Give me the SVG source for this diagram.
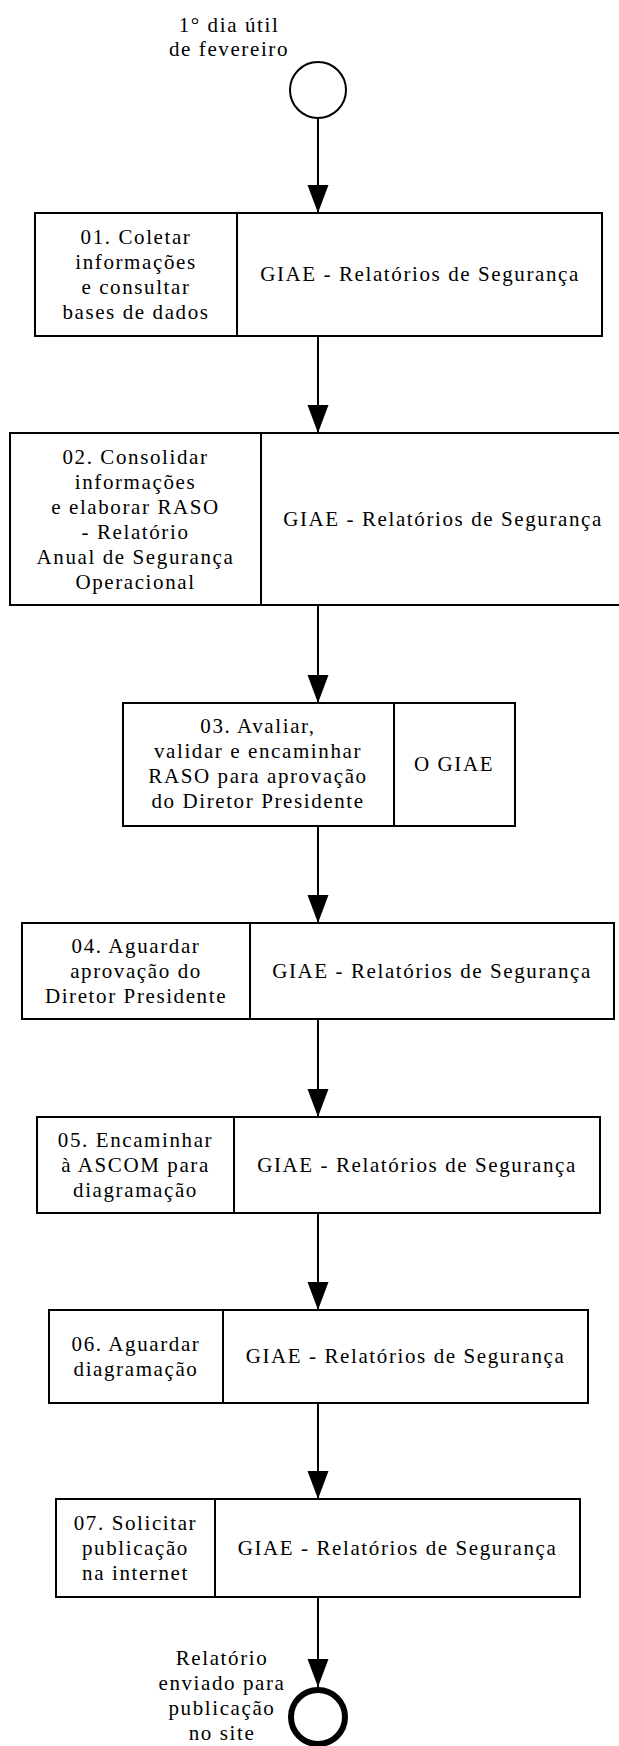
<svg xmlns="http://www.w3.org/2000/svg" width="619" height="1746" viewBox="0 0 619 1746">
<style>
.box{fill:#fff;stroke:#000;stroke-width:2}
.div{stroke:#000;stroke-width:2}
.t{font-family:'Liberation Serif','DejaVu Serif','Noto Serif','Times New Roman',Times,serif;font-size:21px;letter-spacing:1.6px;fill:#000;text-anchor:middle}
.conn{stroke:#000;stroke-width:2;fill:none;marker-end:url(#arr)}
</style>
<defs>
<marker id="arr" markerUnits="userSpaceOnUse" markerWidth="29" markerHeight="22" refX="28" refY="10.5" orient="auto">
<path d="M0,0 L28,10.5 L0,21 z" fill="#000"/>
</marker>
</defs>
<rect width="619" height="1746" fill="#fff"/>
<g id="connectors">
<line class="conn" x1="318" y1="118" x2="318" y2="213"/>
<line class="conn" x1="318" y1="336" x2="318" y2="433"/>
<line class="conn" x1="318" y1="605" x2="318" y2="703"/>
<line class="conn" x1="318" y1="826" x2="318" y2="923"/>
<line class="conn" x1="318" y1="1019" x2="318" y2="1117"/>
<line class="conn" x1="318" y1="1213" x2="318" y2="1310"/>
<line class="conn" x1="318" y1="1403" x2="318" y2="1499"/>
<line class="conn" x1="318" y1="1597" x2="318" y2="1687"/>
</g>
<g id="start">
<circle cx="318" cy="90" r="28" fill="#fff" stroke="#000" stroke-width="2"/>
<text class="t" x="229" y="32">1° dia útil</text>
<text class="t" x="229" y="56">de fevereiro</text>
</g>
<g id="n01">
<rect class="box" x="35" y="213" width="567" height="123"/>
<line class="div" x1="237" y1="213" x2="237" y2="336"/>
<text class="t" x="136" y="244">01. Coletar</text>
<text class="t" x="136" y="269">informações</text>
<text class="t" x="136" y="294">e consultar</text>
<text class="t" x="136" y="319">bases de dados</text>
<text class="t" x="420" y="281">GIAE - Relatórios de Segurança</text>
</g>
<g id="n02">
<rect class="box" x="10" y="433" width="617" height="172"/>
<line class="div" x1="261" y1="433" x2="261" y2="605"/>
<text class="t" x="135.5" y="463.5">02. Consolidar</text>
<text class="t" x="135.5" y="488.5">informações</text>
<text class="t" x="135.5" y="513.5">e elaborar RASO</text>
<text class="t" x="135.5" y="538.5">- Relatório</text>
<text class="t" x="135.5" y="563.5">Anual de Segurança</text>
<text class="t" x="135.5" y="588.5">Operacional</text>
<text class="t" x="443" y="526">GIAE - Relatórios de Segurança</text>
</g>
<g id="n03">
<rect class="box" x="123" y="703" width="392" height="123"/>
<line class="div" x1="394" y1="703" x2="394" y2="826"/>
<text class="t" x="258" y="733">03. Avaliar,</text>
<text class="t" x="258" y="758">validar e encaminhar</text>
<text class="t" x="258" y="783">RASO para aprovação</text>
<text class="t" x="258" y="808">do Diretor Presidente</text>
<text class="t" x="454" y="771">O GIAE</text>
</g>
<g id="n04">
<rect class="box" x="22" y="923" width="592" height="96"/>
<line class="div" x1="250" y1="923" x2="250" y2="1019"/>
<text class="t" x="136" y="953">04. Aguardar</text>
<text class="t" x="136" y="978">aprovação do</text>
<text class="t" x="136" y="1003">Diretor Presidente</text>
<text class="t" x="432" y="978">GIAE - Relatórios de Segurança</text>
</g>
<g id="n05">
<rect class="box" x="37" y="1117" width="563" height="96"/>
<line class="div" x1="234" y1="1117" x2="234" y2="1213"/>
<text class="t" x="135.5" y="1147">05. Encaminhar</text>
<text class="t" x="135.5" y="1172">à ASCOM para</text>
<text class="t" x="135.5" y="1197">diagramação</text>
<text class="t" x="417" y="1172">GIAE - Relatórios de Segurança</text>
</g>
<g id="n06">
<rect class="box" x="49" y="1310" width="539" height="93"/>
<line class="div" x1="223" y1="1310" x2="223" y2="1403"/>
<text class="t" x="136" y="1351">06. Aguardar</text>
<text class="t" x="136" y="1376">diagramação</text>
<text class="t" x="405.5" y="1363">GIAE - Relatórios de Segurança</text>
</g>
<g id="n07">
<rect class="box" x="56" y="1499" width="524" height="98"/>
<line class="div" x1="215" y1="1499" x2="215" y2="1597"/>
<text class="t" x="135.5" y="1530">07. Solicitar</text>
<text class="t" x="135.5" y="1555">publicação</text>
<text class="t" x="135.5" y="1580">na internet</text>
<text class="t" x="397.5" y="1555">GIAE - Relatórios de Segurança</text>
</g>
<g id="end">
<circle cx="318" cy="1717" r="27" fill="#fff" stroke="#000" stroke-width="6"/>
<text class="t" x="222" y="1665">Relatório</text>
<text class="t" x="222" y="1690">enviado para</text>
<text class="t" x="222" y="1715">publicação</text>
<text class="t" x="222" y="1740">no site</text>
</g>
</svg>
